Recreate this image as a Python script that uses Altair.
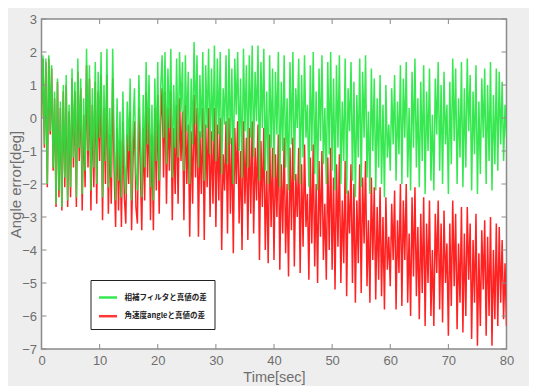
import altair as alt
import pandas as pd

dt = 0.25
series_names = ["相補フィルタと真値の差", "角速度angleと真値の差"]
colors = ["#22e63f", "#ff2222"]
xticks = [0, 10, 20, 30, 40, 50, 60, 70, 80]
yticks = [-7, -6, -5, -4, -3, -2, -1, 0, 1, 2, 3]

green = [
    0.0, 1.9, -0.8, 1.8, -2.0, 1.9, -0.4, 1.6,
    -1.5, 0.8, -2.6, 1.2, -2.2, 0.5, -2.7, 1.0,
    -1.8, 1.3, -2.5, 0.4, -2.1, 1.5, -1.2, 1.1,
    -2.4, 1.8, -0.9, 1.2, -2.3, 0.6, -1.6, 2.1,
    -1.0, 1.6, -2.2, 0.9, -1.5, 1.7, -2.0, 1.4,
    -0.6, 2.0, -2.4, 1.0, -1.3, 2.1, -2.1, 0.3,
    -1.8, 2.1, -0.7, -2.5, 0.6, -1.9, 0.2, -2.4,
    0.8, -1.4, -2.3, 0.5, -1.0, 1.2, -2.5, -0.2,
    0.9, -1.7, -2.2, 1.3, -0.5, -2.4, 0.7, -1.5,
    1.7, -0.8, 1.3, -2.1, 0.4, -2.5, 1.2, -1.3,
    1.7, -1.9, 0.9, 1.9, -0.6, 2.0, -1.4, 1.5,
    -0.3, 2.1, -1.8, 1.0, -0.9, 1.8, -1.2, 2.0,
    0.2, 1.7, -1.6, 1.9, -0.4, 1.4, -2.0, 1.2,
    -0.8, 2.3, -0.2, 1.9, -1.5, 1.3, -0.6, 2.0,
    -1.9, 1.6, -0.3, 2.1, -1.1, 1.5, -0.7, 2.2,
    -1.3, 1.8, -0.5, 2.0, -1.7, 0.9, -0.2, 1.9,
    -1.4, 2.1, -0.8, 1.5, -2.0, 1.8, 0.1, 2.0,
    -1.0, 1.2, -1.8, 2.1, -0.4, 1.6, -1.5, 1.9,
    -0.6, 2.2, -1.2, 1.4, -0.1, 2.2, -1.9, 1.7,
    -0.3, 2.1, -1.6, 0.8, -2.0, 1.9, -0.9, 1.5,
    -1.8, 1.4, -0.5, 2.0, -2.1, 1.1, -1.0, 1.9,
    -1.5, 0.6, -2.2, 1.7, -0.8, 2.0, -1.9, 0.9,
    -0.3, 1.8, -2.0, 1.3, -1.2, 1.9, -0.6, 0.4,
    -2.1, 1.6, -1.0, 2.0, -1.7, 0.8, -2.2, 1.5,
    -0.7, 1.9, -1.4, 0.3, -2.0, 1.7, -1.1, 2.0,
    -1.6, 1.2, -2.2, 1.6, -0.9, 1.9, -2.0, 0.5,
    -1.3, 1.8, -2.3, 0.9, -0.4, 1.7, -1.9, 1.1,
    -2.4, 0.7, -1.2, 1.8, -2.1, 1.4, -0.6, 1.9,
    -1.8, 0.2, -2.3, 1.5, -1.0, 1.2, -2.2, 0.6,
    -1.5, 1.3, -2.0, 0.4, -2.4, 1.0, -1.2, -0.2,
    -1.6, 0.9, -0.8, 1.3, -1.9, 0.5, -1.1, 1.6,
    -2.0, 1.2, -0.6, 1.7, -1.8, 0.3, -2.2, 1.4,
    -0.9, 1.8, -1.5, 0.6, -2.1, 1.1, -1.3, 1.6,
    -2.3, 0.8, -1.0, 1.5, -1.9, 0.1, -2.2, 1.2,
    -0.5, 1.7, -1.6, 1.0, -2.0, 1.4, -0.8, 0.4,
    -2.3, 1.1, -1.4, 1.8, -0.7, 1.5, -2.0, 0.6,
    -1.2, 1.7, -2.1, 0.9, -1.5, 1.8, -0.4, 1.3,
    -2.2, 0.8, -1.1, 1.6, -2.3, 0.5, -1.7, 1.2,
    -0.6, 1.5, -2.0, 1.0, -1.3, 1.7, -2.2, 0.7,
    -1.4, 1.5, -1.6, 1.4, -0.8, 1.1, -1.3, 0.4, -0.6,
]

red = [
    0.0, 1.8, -0.9, 1.7, -2.1, 1.8, -0.5, 1.5,
    -1.6, 0.6, -2.7, 1.1, -2.4, 0.3, -2.8, 0.8,
    -2.1, 1.0, -2.7, 0.2, -2.4, 1.2, -1.5, 0.8,
    -2.7, 1.4, -1.3, 0.9, -2.8, 0.1, -2.1, 1.6,
    -1.5, 1.2, -2.8, 0.4, -2.1, 1.1, -2.6, 0.8,
    -1.3, 1.3, -3.1, 0.3, -2.0, 1.3, -2.9, -0.5,
    -2.6, 1.2, -1.6, -3.3, -0.3, -2.8, -0.7, -3.3,
    -0.1, -2.4, -3.2, -0.5, -2.0, 0.2, -3.4, -1.2,
    -0.1, -2.7, -3.2, 0.3, -1.5, -3.4, -0.3, -2.5,
    0.8, -1.8, 0.3, -3.1, -0.5, -3.4, 0.3, -2.2,
    0.7, -2.9, -0.1, 0.9, -1.8, 0.8, -2.6, 0.3,
    -1.6, 0.8, -3.1, -0.3, -2.3, 0.4, -2.6, 0.6,
    -1.3, 0.2, -3.1, 0.4, -2.0, -0.2, -3.6, -0.4,
    -2.6, 0.7, -1.8, 0.3, -3.6, -0.4, -2.3, 0.3,
    -3.7, -0.2, -2.1, 0.3, -3.0, -0.4, -2.6, 0.3,
    -3.3, -0.2, -2.5, 0.0, -4.0, -1.1, -2.2, -0.1,
    -3.5, 0.0, -2.9, -0.6, -4.1, -0.3, -2.0, -0.1,
    -3.2, -1.0, -4.0, -0.1, -2.6, -0.6, -3.7, -0.3,
    -2.9, -0.1, -3.5, -0.9, -2.5, -0.2, -4.3, -0.7,
    -2.7, -0.3, -4.0, -1.6, -4.4, -0.5, -3.3, -0.9,
    -4.3, -1.1, -3.0, -0.5, -4.6, -1.4, -3.5, -0.6,
    -4.1, -2.0, -4.8, -0.9, -3.4, -0.6, -4.5, -1.7,
    -3.0, -0.9, -4.7, -1.4, -3.9, -0.8, -3.3, -2.3,
    -4.9, -1.2, -3.8, -0.8, -4.5, -2.0, -5.0, -1.3,
    -3.6, -1.0, -4.3, -2.6, -4.9, -1.2, -4.0, -0.9,
    -4.6, -1.8, -5.2, -1.4, -3.9, -1.1, -5.0, -2.5,
    -4.4, -1.3, -5.4, -2.2, -3.5, -1.4, -5.0, -2.0,
    -5.6, -2.5, -4.4, -1.4, -5.3, -1.8, -3.8, -1.3,
    -5.1, -3.1, -5.6, -1.8, -4.3, -2.1, -5.5, -2.7,
    -4.9, -2.1, -5.4, -3.0, -5.8, -2.4, -4.6, -3.6,
    -5.1, -2.6, -4.3, -2.2, -5.8, -3.1, -4.7, -2.0,
    -5.7, -2.5, -4.3, -2.0, -5.6, -3.5, -6.0, -2.4,
    -4.8, -2.1, -5.4, -3.3, -6.1, -2.9, -5.3, -2.4,
    -6.3, -3.2, -5.0, -2.5, -6.0, -4.0, -6.3, -2.9,
    -4.7, -2.5, -5.8, -3.2, -6.2, -2.8, -5.0, -3.8,
    -6.6, -3.2, -5.7, -2.5, -5.1, -2.9, -6.4, -3.8,
    -5.6, -2.7, -6.5, -3.5, -6.0, -2.7, -4.9, -3.2,
    -6.7, -3.7, -5.6, -2.9, -6.9, -4.1, -6.3, -3.4,
    -5.2, -3.1, -6.6, -3.6, -6.0, -3.0, -6.9, -4.0,
    -6.1, -3.2, -6.3, -3.3, -5.6, -3.7, -6.1, -4.4, -6.3,
]

W, H = 465, 330
times_g = [i * dt for i in range(len(green))]
times_r = [i * dt for i in range(len(red))]
df_g = pd.DataFrame({"t": times_g, "v": green, "s": series_names[0]})
df_r = pd.DataFrame({"t": times_r, "v": red, "s": series_names[1]})

label_color = "#6e6e6e"
xscale = alt.Scale(domain=[0, 80], nice=False)
yscale = alt.Scale(domain=[-7, 3], nice=False)
color = alt.Color(
    "s:N",
    scale=alt.Scale(domain=series_names, range=colors),
    legend=alt.Legend(
        orient="none", legendX=49, legendY=261, title=None,
        fillColor="white", strokeColor="#222222", padding=7,
        symbolType="stroke", symbolSize=324, symbolStrokeWidth=2.5,
        labelFont="Noto Sans CJK JP", labelFontWeight="bold",
        labelFontSize=7.5, labelColor="#222222", rowPadding=2.7, labelOffset=6,
    ),
)

xaxis = alt.Axis(values=xticks, title="Time[sec]", grid=False, ticks=False,
                 domain=False, labelPadding=5, labelFlush=False, labelOverlap=False,
                 titleX=W / 2, titleY=32.5, titleBaseline="alphabetic",
                 titleFontSize=14.5)
yaxis = alt.Axis(values=yticks, title="Angle error[deg]", grid=False, ticks=False,
                 domain=False, labelPadding=5, labelFlush=False, labelOverlap=False,
                 titleX=-33, titleY=H / 2, titleBaseline="top")

red_line = alt.Chart(df_r).mark_line(strokeWidth=1.5, clip=True).encode(
    x=alt.X("t:Q", scale=xscale, axis=xaxis),
    y=alt.Y("v:Q", scale=yscale, axis=yaxis),
    color=color,
)
green_line = alt.Chart(df_g).mark_line(strokeWidth=1.5, clip=True, opacity=0.9).encode(
    x=alt.X("t:Q", scale=xscale, axis=xaxis),
    y=alt.Y("v:Q", scale=yscale, axis=yaxis),
    color=color,
)

df_xt = pd.DataFrame({"xt": xticks})
df_yt = pd.DataFrame({"yt": yticks})
tick_style = dict(color="#8a8a8a", strokeWidth=1)
xt_bottom = alt.Chart(df_xt).mark_rule(**tick_style).encode(
    x=alt.X("xt:Q", scale=xscale, axis=xaxis), y=alt.value(H), y2=alt.value(H - 5))
xt_top = alt.Chart(df_xt).mark_rule(**tick_style).encode(
    x=alt.X("xt:Q", scale=xscale, axis=xaxis), y=alt.value(0), y2=alt.value(5))
yt_left = alt.Chart(df_yt).mark_rule(**tick_style).encode(
    y=alt.Y("yt:Q", scale=yscale, axis=yaxis), x=alt.value(0), x2=alt.value(5))
yt_right = alt.Chart(df_yt).mark_rule(**tick_style).encode(
    y=alt.Y("yt:Q", scale=yscale, axis=yaxis), x=alt.value(W), x2=alt.value(W - 5))

chart = alt.layer(red_line, green_line, xt_bottom, xt_top, yt_left, yt_right).properties(
    width=W, height=H,
    autosize=alt.AutoSizeParams(type="none"),
    padding={"left": 33.5, "top": 11, "right": 22.5, "bottom": 37},
    background="#eeeeee",
).configure_view(
    fill="white", stroke="#8a8a8a", strokeWidth=1.5,
).configure_axis(
    labelFont="Liberation Sans", labelFontSize=13, labelColor=label_color,
    titleFont="Liberation Sans", titleFontSize=15, titleColor=label_color,
    titleFontWeight="normal",
)

chart.save("out.html", embed_options={"renderer": "svg", "actions": False})
